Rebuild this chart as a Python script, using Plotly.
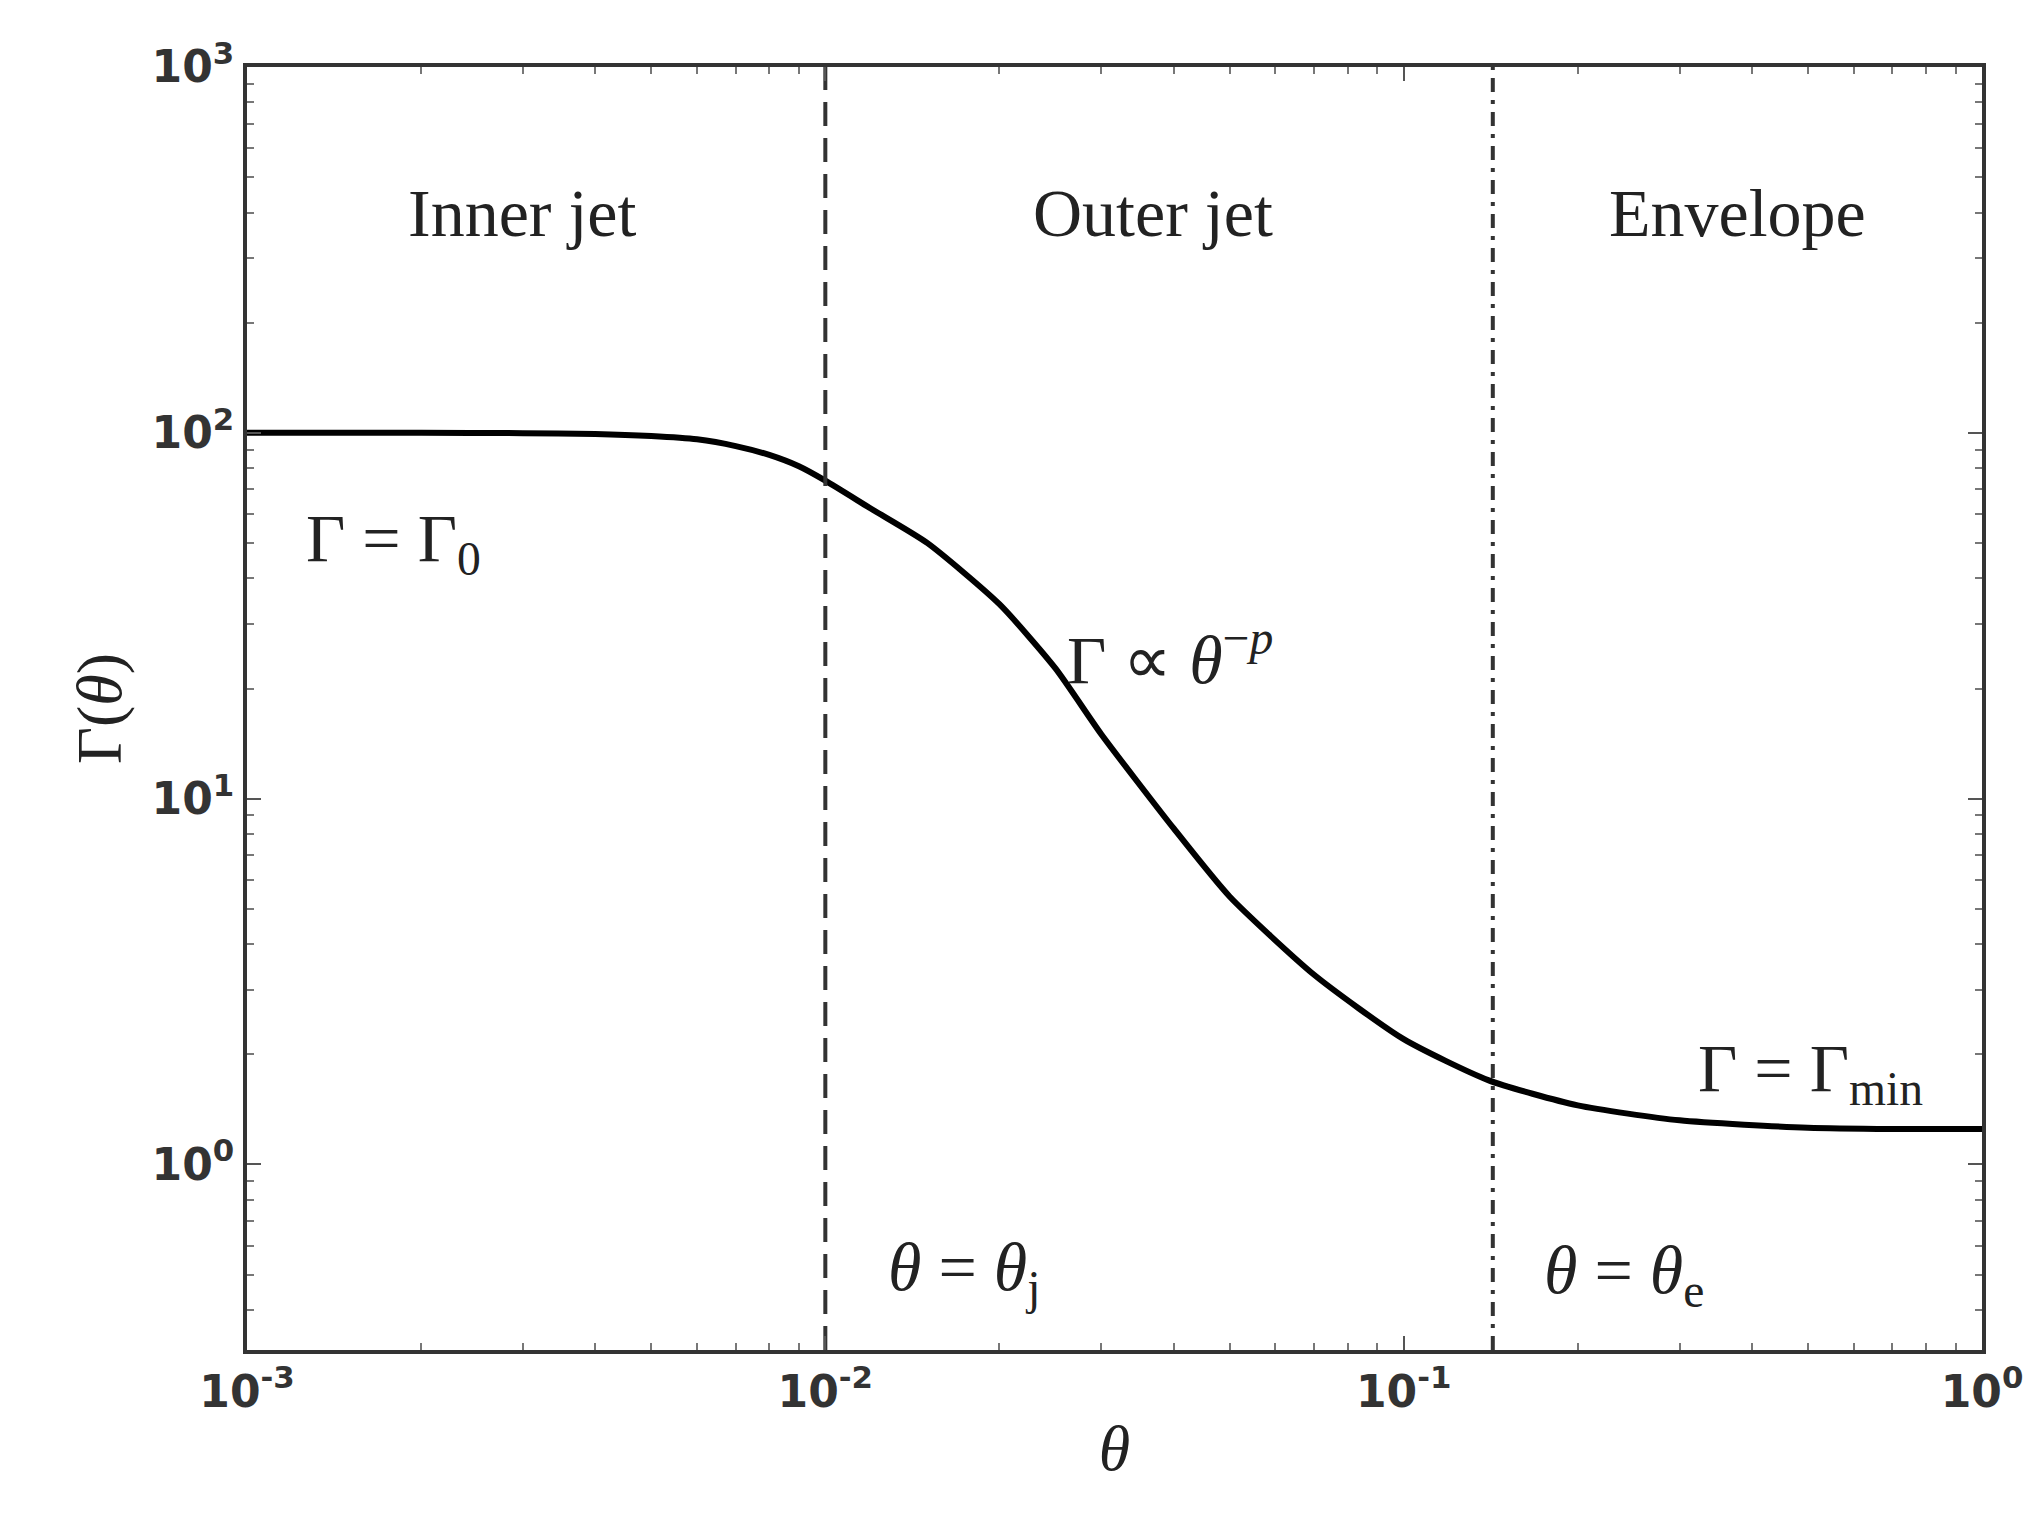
import plotly.graph_objects as go
import math

theta = [0.001, 0.002, 0.003, 0.004, 0.005, 0.006, 0.007, 0.008, 0.009, 0.01, 0.012, 0.015, 0.02, 0.025, 0.03, 0.04, 0.05, 0.07, 0.1, 0.14, 0.2, 0.3, 0.5, 0.7, 1.0]
gamma = [100, 100, 99.8, 99.3, 98, 96, 92, 87, 81, 74, 62, 50, 34, 22.7, 15, 8.3, 5.4, 3.3, 2.2, 1.7, 1.45, 1.32, 1.26, 1.25, 1.25]
theta_j = 0.01
theta_e = 0.1426
xticks = [0.001, 0.01, 0.1, 1]
xticklabels = ["10<sup>-3</sup>", "10<sup>-2</sup>", "10<sup>-1</sup>", "10<sup>0</sup>"]
yticks = [1, 10, 100, 1000]
yticklabels = ["10<sup>0</sup>", "10<sup>1</sup>", "10<sup>2</sup>", "10<sup>3</sup>"]

serif = "Liberation Serif"
fig = go.Figure()
fig.add_trace(go.Scatter(x=theta, y=gamma, mode="lines", line=dict(color="black", width=6, shape="spline", smoothing=0.6), showlegend=False))
ylo, yhi = 0.311, 1000
fig.add_trace(go.Scatter(x=[theta_j, theta_j], y=[ylo, yhi], mode="lines", line=dict(color="#333", width=4, dash="24px,12px"), showlegend=False))
fig.add_trace(go.Scatter(x=[theta_e, theta_e], y=[ylo, yhi], mode="lines", line=dict(color="#333", width=4, dash="14px,8px,4px,8px"), showlegend=False))

ann = [
    (0.0030, 400, "Inner jet"), (0.0368, 400, "Outer jet"), (0.378, 400, "Envelope"),
    (0.00179, 50, "Γ = Γ<sub>0</sub>"), (0.0394, 24.7, "Γ ∝ <i>θ</i><sup>−<i>p</i></sup>"),
    (0.506, 1.78, "Γ = Γ<sub>min</sub>"), (0.0174, 0.51, "<i>θ</i> = <i>θ</i><sub>j</sub>"),
    (0.24, 0.5, "<i>θ</i> = <i>θ</i><sub>e</sub>"),
]
for x, y, t in ann:
    fig.add_annotation(x=math.log10(x), y=math.log10(y), text=t, showarrow=False,
                       font=dict(family=serif, size=68, color="#222"))

axcommon = dict(type="log", showgrid=False, zeroline=False, showline=True, linecolor="#333", linewidth=4,
                mirror="allticks", ticks="inside", ticklen=14, tickwidth=2, tickcolor="#555",
                minor=dict(ticks="inside", ticklen=7, tickcolor="#777", tickwidth=1.5, dtick="D1", showgrid=False),
                tickfont=dict(family="DejaVu Sans", size=44, color="#333", weight="bold"))
fig.update_xaxes(**axcommon, range=[-3, 0], tickvals=xticks, ticktext=xticklabels,
                 title=dict(text="<i>θ</i>", font=dict(family=serif, size=64, color="#222"), standoff=10))
fig.update_yaxes(**axcommon, range=[math.log10(ylo), 3], tickvals=yticks, ticktext=yticklabels,
                 title=dict(text="Γ(<i>θ</i>)", font=dict(family=serif, size=64, color="#222"), standoff=10))
fig.update_layout(width=2039, height=1520, margin=dict(l=239, r=65, t=59, b=178),
                  plot_bgcolor="white", paper_bgcolor="white")
fig.write_html("out.html")
